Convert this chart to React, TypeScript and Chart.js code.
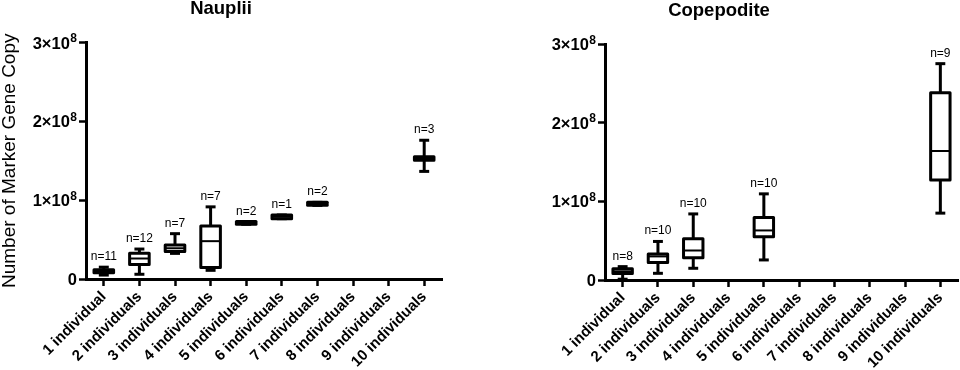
import React, { useEffect, useRef } from "react";
import { Chart, registerables } from "chart.js";

Chart.register(...registerables);

const FONT = "'Liberation Sans', Arial, Helvetica, sans-serif";

// ---------- data ----------
const CATEGORIES = [
  "1 individual",
  "2 individuals",
  "3 individuals",
  "4 individuals",
  "5 individuals",
  "6 individuals",
  "7 individuals",
  "8 individuals",
  "9 individuals",
  "10 individuals",
];

const UNIT = 1e8;
const Y_TICKS = [0, 1e8, 2e8, 3e8];
// tick label = mantissa + "×10" with superscript exponent
const Y_TICK_BASE = ["0", "1×10", "2×10", "3×10"];
const Y_TICK_EXP = ["", "8", "8", "8"];

// Nauplii (values in units of 1e8), null = no samples
const NAUPLII_MIN = [0.05, 0.06, 0.325, 0.11, 0.694, 0.765, 0.934, null, null, 1.365];
const NAUPLII_Q1 = [0.08, 0.184, 0.35, 0.146, 0.694, 0.765, 0.934, null, null, 1.505];
const NAUPLII_MEDIAN = [0.1, 0.26, 0.39, 0.48, 0.711, 0.789, 0.953, null, null, 1.528];
const NAUPLII_Q3 = [0.117, 0.327, 0.43, 0.673, 0.728, 0.812, 0.972, null, null, 1.55];
const NAUPLII_MAX = [0.15, 0.38, 0.575, 0.915, 0.728, 0.812, 0.972, null, null, 1.76];
const NAUPLII_N = [11, 12, 7, 7, 2, 1, 2, null, null, 3];

// Copepodite (values in units of 1e8)
const COPE_MIN = [0.01, 0.085, 0.149, null, 0.255, null, null, null, null, 0.85];
const COPE_Q1 = [0.083, 0.223, 0.283, null, 0.55, null, null, null, null, 1.27];
const COPE_MEDIAN = [0.11, 0.3, 0.375, null, 0.63, null, null, null, null, 1.64];
const COPE_Q3 = [0.143, 0.33, 0.525, null, 0.796, null, null, null, null, 2.38];
const COPE_MAX = [0.17, 0.49, 0.84, null, 1.095, null, null, null, null, 2.75];
const COPE_N = [8, 10, 10, null, 10, null, null, null, null, 9];

type Stats = {
  min: (number | null)[];
  q1: (number | null)[];
  median: (number | null)[];
  q3: (number | null)[];
  max: (number | null)[];
  n: (number | null)[];
};

const boxPlugin = (stats: Stats) => ({
  id: "boxWhisker",
  afterDatasetsDraw(chart: any) {
    const ctx = chart.ctx;
    const xs = chart.scales.x;
    const ys = chart.scales.y;
    const catW = xs.getPixelForValue(1) - xs.getPixelForValue(0);
    const boxW = catW * 0.55;
    const capW = catW * 0.28;
    const py = (v: number) => ys.getPixelForValue(v * UNIT);
    const line = (x1: number, y1: number, x2: number, y2: number) => {
      ctx.beginPath();
      ctx.moveTo(x1, y1);
      ctx.lineTo(x2, y2);
      ctx.stroke();
    };
    ctx.save();
    stats.median.forEach((med, i) => {
      if (med == null) return;
      const cx = xs.getPixelForValue(i);
      const mn = stats.min[i] as number;
      const mx = stats.max[i] as number;
      const q1 = stats.q1[i] as number;
      const q3 = stats.q3[i] as number;
      ctx.strokeStyle = "#000";
      ctx.lineWidth = 3;
      ctx.lineCap = "butt";
      ctx.lineJoin = "round";
      // whiskers
      line(cx, py(mx), cx, py(q3));
      line(cx, py(q1), cx, py(mn));
      // caps
      line(cx - capW / 2, py(mx), cx + capW / 2, py(mx));
      line(cx - capW / 2, py(mn), cx + capW / 2, py(mn));
      // box
      const top = py(q3);
      const bot = py(q1);
      ctx.fillStyle = "#fff";
      ctx.fillRect(cx - boxW / 2, top, boxW, bot - top);
      ctx.strokeRect(cx - boxW / 2, top, boxW, bot - top);
      // median
      ctx.lineWidth = 2;
      line(cx - boxW / 2, py(med), cx + boxW / 2, py(med));
      // n label
      const n = stats.n[i];
      if (n != null) {
        ctx.fillStyle = "#000";
        ctx.font = `12px ${FONT}`;
        ctx.textAlign = "center";
        ctx.textBaseline = "alphabetic";
        ctx.fillText(`n=${n}`, cx, py(mx) - 7);
      }
    });
    ctx.restore();
  },
});

// y tick labels with a real superscript exponent
const yLabelPlugin = {
  id: "yLabels",
  afterDraw(chart: any) {
    const ctx = chart.ctx;
    const ys = chart.scales.y;
    const right = ys.right - 9;
    ctx.save();
    ctx.fillStyle = "#000";
    ctx.textBaseline = "middle";
    ctx.textAlign = "left";
    Y_TICKS.forEach((v, k) => {
      const y = ys.getPixelForValue(v) + 1.5;
      const base = Y_TICK_BASE[k];
      const exp = Y_TICK_EXP[k];
      ctx.font = `bold 16.5px ${FONT}`;
      const wb = ctx.measureText(base).width;
      ctx.font = `bold 12px ${FONT}`;
      const we = exp ? ctx.measureText(exp).width + 0.5 : 0;
      const x0 = right - wb - we;
      ctx.font = `bold 16.5px ${FONT}`;
      ctx.fillText(base, x0, y);
      if (exp) {
        ctx.font = `bold 12px ${FONT}`;
        ctx.fillText(exp, x0 + wb + 0.5, y - 5);
      }
    });
    ctx.restore();
  },
};

type PanelProps = {
  title: string;
  stats: Stats;
  yTitle?: string;
  yWidth: number;
  xHeight: number;
  padRight: number;
  titleTop: number;
  titleBottom: number;
};

function Panel(props: PanelProps) {
  const ref = useRef<HTMLCanvasElement | null>(null);
  useEffect(() => {
    if (!ref.current) return;
    const { stats } = props;
    const chart = new Chart(ref.current, {
      type: "bar",
      data: {
        labels: CATEGORIES,
        datasets: [
          {
            data: stats.q1.map((q, i) =>
              q == null ? null : [q * UNIT, (stats.q3[i] as number) * UNIT]
            ) as any,
            backgroundColor: "#ffffff",
            borderWidth: 0,
            categoryPercentage: 1,
            barPercentage: 0.55,
          },
        ],
      },
      options: {
        animation: false,
        responsive: false,
        events: [],
        layout: { padding: { left: 0, right: props.padRight, top: 0, bottom: 0 } },
        plugins: {
          legend: { display: false },
          tooltip: { enabled: false },
          title: {
            display: true,
            text: props.title,
            color: "#000",
            font: { family: FONT, size: 18.5, weight: "bold", lineHeight: 1 },
            padding: { top: props.titleTop, bottom: props.titleBottom },
          },
        },
        scales: {
          x: {
            type: "category",
            offset: true,
            grid: {
              display: true,
              drawOnChartArea: false,
              drawTicks: true,
              offset: false,
              tickLength: 7,
              tickWidth: 2.5,
              tickColor: "#000",
              color: "#000",
            },
            border: { display: true, color: "#000", width: 3 },
            ticks: {
              color: "#000",
              font: { family: FONT, size: 15, weight: "bold" },
              maxRotation: 45,
              minRotation: 45,
              autoSkip: false,
              padding: 2,
            },
            afterFit: (s: any) => {
              s.height = props.xHeight;
            },
          },
          y: {
            type: "linear",
            min: 0,
            max: 3e8,
            grid: {
              display: true,
              drawOnChartArea: false,
              drawTicks: true,
              tickLength: 7,
              tickWidth: 2.5,
              tickColor: "#000",
              color: "#000",
            },
            border: { display: true, color: "#000", width: 3 },
            ticks: {
              display: false,
              color: "#000",
              font: { family: FONT, size: 15, weight: "bold" },
              padding: 2,
            },
            afterBuildTicks: (s: any) => {
              s.ticks = Y_TICKS.map((v) => ({ value: v }));
            },
            title: {
              display: !!props.yTitle,
              text: props.yTitle || "",
              color: "#000",
              font: { family: FONT, size: 19, weight: "normal", lineHeight: 1 },
              padding: { top: 0, bottom: 0 },
            },
            afterFit: (s: any) => {
              s.width = props.yWidth;
            },
          },
        },
      } as any,
      plugins: [boxPlugin(stats), yLabelPlugin],
    });
    return () => chart.destroy();
  }, []);
  return (
    <canvas
      ref={ref}
      width={480}
      height={370}
      style={{ display: "block", width: 480, height: 370 }}
    />
  );
}

const NAUPLII: Stats = {
  min: NAUPLII_MIN,
  q1: NAUPLII_Q1,
  median: NAUPLII_MEDIAN,
  q3: NAUPLII_Q3,
  max: NAUPLII_MAX,
  n: NAUPLII_N,
};

const COPEPODITE: Stats = {
  min: COPE_MIN,
  q1: COPE_Q1,
  median: COPE_MEDIAN,
  q3: COPE_Q3,
  max: COPE_MAX,
  n: COPE_N,
};

export default function App() {
  return (
    <div
      style={{
        position: "fixed",
        left: 0,
        top: 0,
        width: 960,
        height: 370,
        display: "flex",
        background: "#fff",
      }}
    >
      <Panel
        title="Nauplii"
        stats={NAUPLII}
        yTitle="Number of Marker Gene Copy"
        yWidth={86}
        xHeight={91}
        padRight={38}
        titleTop={0}
        titleBottom={24}
      />
      <Panel
        title="Copepodite"
        stats={COPEPODITE}
        yWidth={125}
        xHeight={90}
        padRight={2}
        titleTop={2}
        titleBottom={23.5}
      />
    </div>
  );
}
